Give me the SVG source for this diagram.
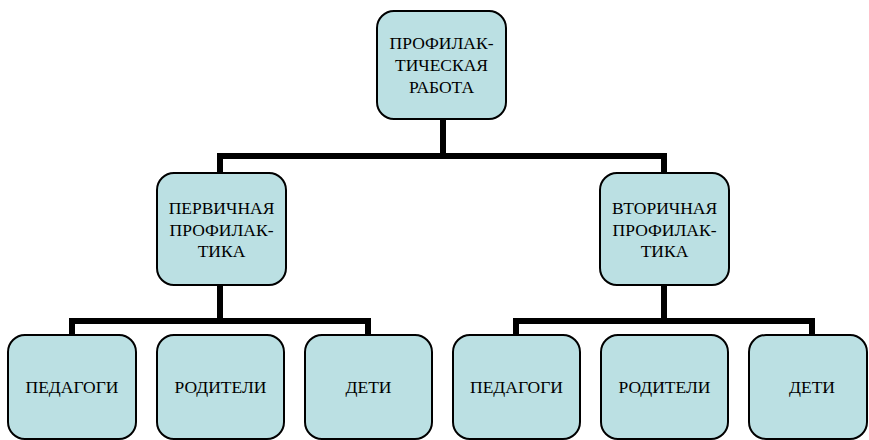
<svg xmlns="http://www.w3.org/2000/svg" width="869" height="440" viewBox="0 0 869 440">
<style>
.n{fill:#BBE0E3;stroke:#000;stroke-width:2}
.t{font-family:"Liberation Serif","DejaVu Serif",serif;font-size:17.5px;fill:#000;text-anchor:middle}
.c{fill:none;stroke:#000;stroke-width:6;stroke-linejoin:miter;stroke-linecap:butt}
</style>
<rect width="869" height="440" fill="#fff"/>
<g id="connectors">
<path class="c" d="M443 119V156M220 173V156H664V173"/>
<path class="c" d="M220 285V321M72 335V321H368V335"/>
<path class="c" d="M664 285V321M516 335V321H812V335"/>
</g>
<g id="root"><rect class="n" x="377" y="11" width="129" height="108" rx="17"/>
<text class="t" x="441.5" y="49">ПРОФИЛАК-</text><text class="t" x="441.5" y="71">ТИЧЕСКАЯ</text><text class="t" x="441.5" y="93">РАБОТА</text></g>
<g id="primary"><rect class="n" x="157" y="173" width="129" height="112" rx="17"/>
<text class="t" x="221.5" y="214">ПЕРВИЧНАЯ</text><text class="t" x="221.5" y="236">ПРОФИЛАК-</text><text class="t" x="221.5" y="257">ТИКА</text></g>
<g id="secondary"><rect class="n" x="600" y="173" width="129" height="112" rx="17"/>
<text class="t" x="664.5" y="214">ВТОРИЧНАЯ</text><text class="t" x="664.5" y="236">ПРОФИЛАК-</text><text class="t" x="664.5" y="257">ТИКА</text></g>
<g id="p-teachers"><rect class="n" x="8" y="335" width="128" height="104" rx="17"/><text class="t" x="72" y="393">ПЕДАГОГИ</text></g>
<g id="p-parents"><rect class="n" x="157" y="335" width="127" height="104" rx="17"/><text class="t" x="220.5" y="393">РОДИТЕЛИ</text></g>
<g id="p-children"><rect class="n" x="305" y="335" width="127" height="104" rx="17"/><text class="t" x="368.5" y="393">ДЕТИ</text></g>
<g id="s-teachers"><rect class="n" x="453" y="335" width="127" height="104" rx="17"/><text class="t" x="516.5" y="393">ПЕДАГОГИ</text></g>
<g id="s-parents"><rect class="n" x="601" y="335" width="127" height="104" rx="17"/><text class="t" x="664.5" y="393">РОДИТЕЛИ</text></g>
<g id="s-children"><rect class="n" x="749" y="335" width="118" height="104" rx="17"/><text class="t" x="812" y="393">ДЕТИ</text></g>
</svg>
